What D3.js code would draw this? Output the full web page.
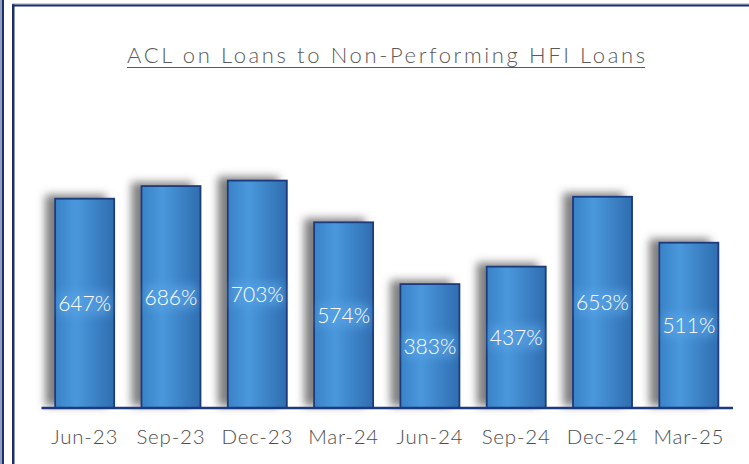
<head>
  <script src="https://cdnjs.cloudflare.com/ajax/libs/d3/7.8.5/d3.min.js"></script>
</head>
<style>
  body { margin: 0; background: #fff; }
  .title { font-family: Lato, sans-serif; font-weight: 300; fill: #595959; }
  .tick text { font-family: Lato, sans-serif; font-weight: 300; fill: #4d4d4d; }
  .lbl { font-family: Lato, sans-serif; font-weight: 300; fill: #fff; }
</style>
<body>
<script>
// data
var periods = ["Jun-23", "Sep-23", "Dec-23", "Mar-24", "Jun-24", "Sep-24", "Dec-24", "Mar-25"];
var ratios = [647, 686, 703, 574, 383, 437, 653, 511];
var titleText = "ACL on Loans to Non-Performing HFI Loans";

var W = 749, H = 464;
var svg = d3.select("body").append("svg")
    .attr("width", W)
    .attr("height", H);

var defs = svg.append("defs");

var grad = defs.append("linearGradient").attr("id", "barFill")
    .attr("x1", "0%").attr("x2", "100%").attr("y1", "0%").attr("y2", "0%");
grad.append("stop").attr("offset", "0%").attr("stop-color", "#3a82c6");
grad.append("stop").attr("offset", "35%").attr("stop-color", "#4a98dc");
grad.append("stop").attr("offset", "100%").attr("stop-color", "#2f6db0");

var shadow = defs.append("filter").attr("id", "shadow")
    .attr("x", "-40%").attr("y", "-10%").attr("width", "160%").attr("height", "120%");
shadow.append("feDropShadow")
    .attr("dx", -9).attr("dy", -3).attr("stdDeviation", 4)
    .attr("flood-color", "#555").attr("flood-opacity", 0.75);

var glow = defs.append("filter").attr("id", "glow")
    .attr("x", "-30%").attr("y", "-50%").attr("width", "160%").attr("height", "200%");
glow.append("feGaussianBlur").attr("stdDeviation", 4);

// frame lines
svg.append("rect").attr("x", 0).attr("y", 0).attr("width", 2).attr("height", H).attr("fill", "#8fa0c0");
svg.append("rect").attr("x", 2).attr("y", 0).attr("width", 2).attr("height", H).attr("fill", "#1a2f6b");
svg.append("rect").attr("x", 12).attr("y", 4).attr("width", 2.5).attr("height", H).attr("fill", "#1a2f6b");
svg.append("rect").attr("x", 12).attr("y", 3.5).attr("width", W).attr("height", 1).attr("fill", "#8fa0c0");
svg.append("rect").attr("x", 12).attr("y", 4.5).attr("width", W).attr("height", 2).attr("fill", "#1a2f6b");

// title
svg.append("text").attr("class", "title")
    .attr("x", 386).attr("y", 63)
    .attr("text-anchor", "middle")
    .style("font-size", "22px")
    .attr("textLength", 518)
    .attr("lengthAdjust", "spacing")
    .text(titleText);
svg.append("line")
    .attr("x1", 127).attr("x2", 645)
    .attr("y1", 67.5).attr("y2", 67.5)
    .attr("stroke", "#595959").attr("stroke-width", 1.2);

// scales
var baseY = 408;
var x = d3.scaleBand().domain(periods).range([41.5, 732]).paddingInner(0.316).paddingOuter(0.158);
var y = d3.scaleLinear().domain([0, 800]).range([baseY, baseY - 258.8]);

var g = svg.append("g");

g.selectAll("rect.bar")
  .data(ratios)
  .enter().append("rect")
    .attr("class", "bar")
    .attr("x", (d, i) => x(periods[i]))
    .attr("y", d => y(d))
    .attr("width", x.bandwidth())
    .attr("height", d => baseY - y(d))
    .attr("fill", "url(#barFill)")
    .attr("stroke", "#1c3a7c")
    .attr("stroke-width", 1.8)
    .attr("filter", "url(#shadow)");

// soft glow behind labels
g.selectAll("rect.glow")
  .data(ratios)
  .enter().append("rect")
    .attr("class", "glow")
    .attr("x", (d, i) => x(periods[i]) + 4)
    .attr("y", d => (y(d) + baseY) / 2 - 12)
    .attr("width", x.bandwidth() - 8)
    .attr("height", 24)
    .attr("fill", "#5aa4e6")
    .attr("opacity", 0.6)
    .attr("filter", "url(#glow)");

g.selectAll("text.lbl")
  .data(ratios)
  .enter().append("text")
    .attr("class", "lbl")
    .attr("x", (d, i) => x(periods[i]) + x.bandwidth() / 2)
    .attr("y", d => (y(d) + baseY) / 2)
    .attr("dy", "0.36em")
    .attr("text-anchor", "middle")
    .style("font-size", "21px")
    .text(d => d + "%");

// x axis
var xAxis = svg.append("g")
    .attr("transform", "translate(0," + baseY + ")")
    .call(d3.axisBottom(x).tickSize(0).tickPadding(21));
xAxis.select(".domain").attr("stroke", "#1c3a7c").attr("stroke-width", 2.5)
    .attr("d", "M41.5,0H733");
xAxis.selectAll(".tick text")
    .style("font-size", "20.5px")
    .attr("letter-spacing", "0.8px");
</script>
</body>
